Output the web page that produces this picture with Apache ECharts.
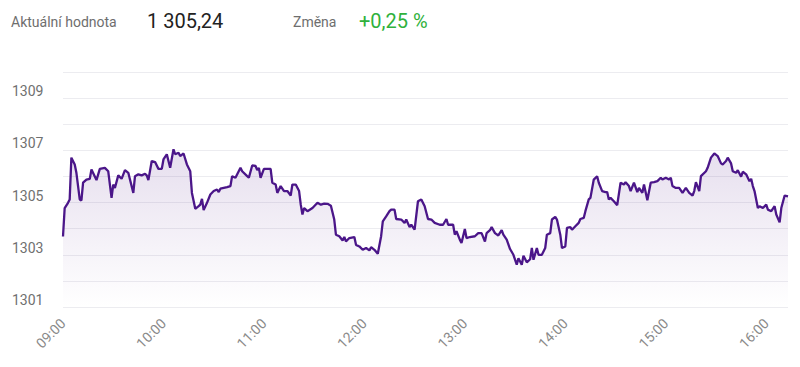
<!DOCTYPE html>
<html>
<head>
<meta charset="utf-8">
<script src="https://cdn.jsdelivr.net/npm/echarts@6/dist/echarts.min.js"></script>
<style>
html,body{margin:0;padding:0;background:#fff;}
#chart{width:800px;height:367px;}
</style>
</head>
<body>
<div id="chart"></div>
<script>
// Header texts
const currentLabel = 'Aktuální hodnota';
const currentValue = '1 305,24';
const changeLabel = 'Změna';
const changeValue = '+0,25 %';

// Tick labels (x axis, every hour from 09:00)
const tickLabels = ['09:00','10:00','11:00','12:00','13:00','14:00','15:00','16:00'];

// Minutes since 09:00 of each sample
const minutes = [0,1,3,4,5,7,8,10,11,12,14,16,17,19,20,22,25,27,29,30,31,33,35,37,39,40,42,43,45,47,49,50,51,53,55,57,59,60,62,64,66,67,69,70,72,74,76,77,79,81,82,83,84,86,88,90,92,93,94,96,98,100,101,103,106,107,110,111,
113,115,116,117,118,120,122,124,125,127,128,130,132,134,136,137,139,141,142,143,144,146,149,152,154,156,158,160,162,163,165,167,168,169,171,174,175,177,179,181,183,184,186,188,190,191,193,195,196,198,199,202,204,205,207,208,210,212,214,216,218,220,222,
225,227,229,230,233,234,235,237,238,240,241,243,246,248,250,252,253,255,256,258,260,262,263,265,267,269,271,272,274,275,277,279,280,281,283,284,286,288,289,291,292,294,295,297,298,300,301,303,304,306,308,309,311,312,314,315,317,319,320,322,324,325,326,327,329,331,
333,335,336,338,339,341,343,344,346,347,349,351,353,355,357,358,360,362,363,364,366,368,370,372,374,376,377,378,380,381,384,385,387,389,391,393,394,396,397,399,400,402,403,405,406,408,410,411,412,413,415,416,418,420,421,423,425,426,428,429,431,433];

// Index value of each sample
const values = [1303.70,1304.79,1304.99,1305.12,1306.72,1306.46,1306.14,1305.12,1305.08,1305.76,1305.88,1305.91,1306.27,1306.00,1305.86,1306.29,1306.33,1306.20,1305.18,1305.69,1305.56,1306.04,1305.91,1306.24,1306.14,1305.88,1305.37,1306.01,1306.08,1306.04,1306.10,1306.04,1305.86,1306.59,1306.55,1306.29,1306.29,1306.65,1306.85,1306.33,1307.04,1306.85,1306.91,1306.78,1306.88,1306.46,1306.20,1305.37,1304.76,1304.86,1304.92,1305.14,1304.71,1304.99,1305.31,1305.44,1305.50,1305.40,1305.53,1305.56,1305.59,1305.63,1306.01,1305.95,1306.33,1306.20,1306.01,1305.95,
1306.42,1306.40,1306.24,1306.33,1305.95,1306.29,1306.29,1306.29,1305.76,1305.69,1305.37,1305.63,1305.44,1305.44,1305.27,1305.69,1305.69,1305.44,1304.92,1304.54,1304.79,1304.67,1304.79,1304.99,1304.92,1304.96,1304.95,1304.88,1304.35,1303.77,1303.71,1303.55,1303.68,1303.51,1303.64,1303.68,1303.38,1303.32,1303.19,1303.26,1303.17,1303.29,1303.19,1303.04,1303.71,1304.28,1304.47,1304.67,1304.73,1304.73,1304.37,1304.35,1304.22,1304.35,1304.06,1304.15,1303.96,1305.05,1305.12,1304.86,1304.37,1304.35,1304.22,
1304.15,1304.15,1304.37,1304.15,1304.15,1303.77,1303.90,1303.58,1303.45,1303.99,1303.64,1303.68,1303.71,1303.83,1303.83,1303.51,1303.83,1303.94,1304.06,1303.83,1303.74,1303.94,1303.77,1303.58,1303.22,1303.00,1302.62,1302.87,1302.62,1302.96,1302.71,1302.83,1303.26,1302.81,1303.26,1303.00,1303.00,1303.26,1303.77,1303.83,1304.35,1304.45,1304.35,1303.77,1303.26,1303.32,1304.03,1304.06,1303.96,1304.09,1304.22,1304.37,1304.41,1304.67,1305.12,1305.18,1305.88,1306.01,1305.76,1305.44,1305.40,1305.40,1305.12,1305.18,1305.05,1304.90,
1305.76,1305.69,1305.78,1305.63,1305.44,1305.76,1305.40,1305.56,1305.37,1305.69,1305.09,1305.76,1305.78,1305.82,1305.95,1305.88,1305.95,1305.88,1305.95,1305.63,1305.56,1305.56,1305.37,1305.56,1305.37,1305.27,1305.44,1305.78,1305.44,1306.01,1306.20,1306.33,1306.72,1306.88,1306.78,1306.50,1306.46,1306.59,1306.72,1306.50,1306.20,1306.14,1306.24,1305.99,1306.18,1306.08,1305.82,1305.91,1305.63,1305.44,1304.79,1304.86,1304.79,1304.92,1304.73,1304.67,1304.86,1304.54,1304.24,1304.79,1305.27,1305.24];

const seriesData = minutes.map((m, i) => [m, values[i]]);

const chart = echarts.init(document.getElementById('chart'), null, {renderer: 'svg'});
const font = 'Roboto, "Noto Sans", sans-serif';
chart.setOption({
  animation: false,
  textStyle: {fontFamily: font},
  graphic: [
    {type: 'text', left: 11, top: 15, style: {text: currentLabel, fontSize: 14, fill: '#6e6e6e', fontFamily: font}},
    {type: 'text', left: 147, top: 11, style: {text: currentValue, fontSize: 20, fill: '#222', fontFamily: font}},
    {type: 'text', left: 293, top: 15, style: {text: changeLabel, fontSize: 14, fill: '#6e6e6e', fontFamily: font}},
    {type: 'text', left: 359, top: 11, style: {text: changeValue, fontSize: 20, fill: '#2fb13c', fontFamily: font}}
  ],
  grid: {left: 63, right: 12, top: 72, bottom: 60},
  xAxis: {
    type: 'value',
    min: 0,
    max: minutes[minutes.length - 1],
    interval: 60,
    axisLine: {show: false},
    axisTick: {show: false},
    splitLine: {show: false},
    axisLabel: {
      rotate: 45,
      margin: 14,
      color: '#8a8a8a',
      fontSize: 14,
      fontFamily: font,
      showMaxLabel: false,
      formatter: v => tickLabels[Math.round(v / 60)] || ''
    }
  },
  yAxis: {
    type: 'value',
    min: 1301,
    max: 1310,
    interval: 1,
    axisLine: {show: false},
    axisTick: {show: false},
    splitLine: {lineStyle: {color: '#ececf0', width: 1}},
    axisLabel: {
      align: 'left',
      verticalAlign: 'bottom',
      margin: 51,
      color: '#707070',
      fontSize: 14,
      fontFamily: font,
      formatter: v => (Math.round(v) % 2 === 1 && v < 1310) ? String(v) : ''
    }
  },
  series: [{
    type: 'line',
    data: seriesData,
    showSymbol: false,
    symbol: 'none',
    lineStyle: {color: '#4b1689', width: 2.3},
    areaStyle: {
      color: new echarts.graphic.LinearGradient(0, 0, 0, 1, [
        {offset: 0, color: 'rgba(95,45,145,0.22)'},
        {offset: 1, color: 'rgba(95,45,145,0.0)'}
      ])
    }
  }]
});
</script>
</body>
</html>
